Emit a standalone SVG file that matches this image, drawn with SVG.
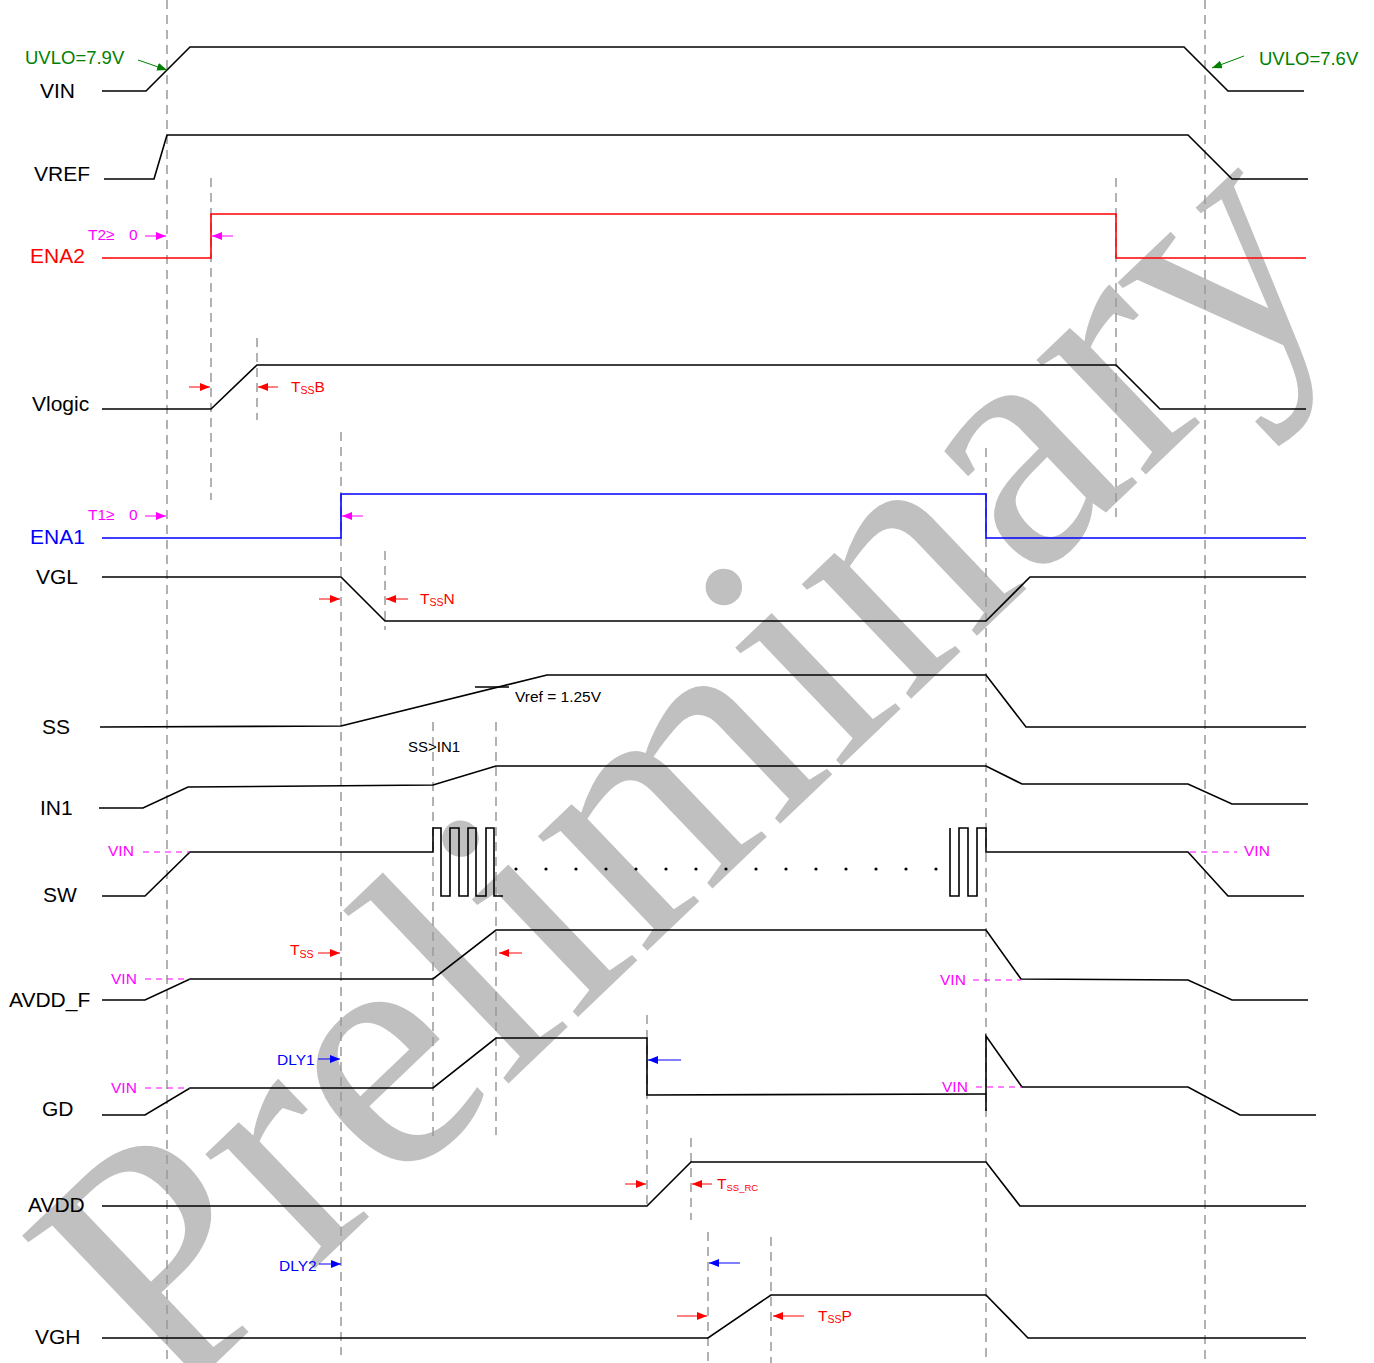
<svg xmlns="http://www.w3.org/2000/svg" width="1374" height="1363" viewBox="0 0 1374 1363">
<style>
.sig{fill:none;stroke:#000;stroke-width:1.6;stroke-linejoin:miter}
.lbl{font-family:"Liberation Sans",Arial,sans-serif;font-size:21px;fill:#000}
.sm{font-family:"Liberation Sans",Arial,sans-serif;font-size:15.5px}
.guide{fill:none;stroke:#999;stroke-width:1.5;stroke-dasharray:9,6}
.vdash{fill:none;stroke:#ff00ff;stroke-width:1;stroke-dasharray:6,5}
.ar{fill:none;stroke-width:1}
.wm{font-family:"Liberation Serif","Times New Roman",serif;font-size:345px;fill:#c0c0c0}
</style>
<defs>
<marker id="mr" viewBox="0 0 10 8" refX="10" refY="4" markerWidth="10" markerHeight="8" markerUnits="userSpaceOnUse" orient="auto"><path d="M0,0L10,4L0,8z" fill="#ff0000"/></marker>
<marker id="mm" viewBox="0 0 10 8" refX="10" refY="4" markerWidth="10" markerHeight="8" markerUnits="userSpaceOnUse" orient="auto"><path d="M0,0L10,4L0,8z" fill="#ff00ff"/></marker>
<marker id="mb" viewBox="0 0 10 8" refX="10" refY="4" markerWidth="10" markerHeight="8" markerUnits="userSpaceOnUse" orient="auto"><path d="M0,0L10,4L0,8z" fill="#0000ff"/></marker>
<marker id="mg" viewBox="0 0 10 8" refX="10" refY="4" markerWidth="10" markerHeight="8" markerUnits="userSpaceOnUse" orient="auto"><path d="M0,0L10,4L0,8z" fill="#008000"/></marker>
</defs>
<rect width="1374" height="1363" fill="#fff"/>
<text class="wm" transform="translate(171,1406) rotate(-43.7)">Preliminary</text>

<g id="guides">
<path class="guide" d="M167,0V1363M1205,0V1363M211,178V500M257,338V420M341,432V1355M385,551V630M433,722V1140M496,722V1135M647,1015V1210M691,1138V1220M708,1232V1363M771,1237V1363M986,448V1363M1116,178V520"/>
</g>

<g id="VIN">
<text class="lbl" x="40" y="98">VIN</text>
<path class="sig" d="M102,91H146L190,47H1184L1228,91H1304"/>
</g>
<g id="VREF">
<text class="lbl" x="34" y="181">VREF</text>
<path class="sig" d="M104,179H154L167,135H1188L1232,179H1308"/>
</g>
<g id="ENA2">
<text class="lbl" x="30" y="263" style="fill:#ff0000">ENA2</text>
<path class="sig" style="stroke:#ff0000" d="M102,258H211V214H1116V258H1306"/>
</g>
<g id="Vlogic">
<text class="lbl" x="32" y="411">Vlogic</text>
<path class="sig" d="M102,409H211L257,365H1116L1160,409H1306"/>
</g>
<g id="ENA1">
<text class="lbl" x="30" y="544" style="fill:#0000ff">ENA1</text>
<path class="sig" style="stroke:#0000ff" d="M102,538H341V494H986V538H1306"/>
</g>
<g id="VGL">
<text class="lbl" x="36" y="584">VGL</text>
<path class="sig" d="M102,577H341L385,621H986L1030,577H1306"/>
</g>
<g id="SS">
<text class="lbl" x="42" y="734">SS</text>
<path class="sig" d="M100,727L341,726L547,675H986L1026,727H1306"/>
<path class="sig" d="M475,687H509"/>
</g>
<g id="IN1">
<text class="lbl" x="40" y="815">IN1</text>
<path class="sig" d="M99,808H143L188,787L433,785L496,766H986L1022,784H1188L1232,804H1308"/>
</g>
<g id="SW">
<text class="lbl" x="43" y="902">SW</text>
<path class="sig" d="M102,896H145L190,852H433V828H441V896H450V828H459V896H468V828H476V896H486V828H494V896H503"/>
<path class="sig" d="M950,828V896H959V828H968V896H977V828H986V852H1188L1228,896H1304"/>
<g fill="#000">
<circle cx="516" cy="869" r="1.6"/><circle cx="546" cy="869" r="1.6"/><circle cx="576" cy="869" r="1.6"/><circle cx="606" cy="869" r="1.6"/><circle cx="636" cy="869" r="1.6"/><circle cx="666" cy="869" r="1.6"/><circle cx="696" cy="869" r="1.6"/><circle cx="726" cy="869" r="1.6"/><circle cx="756" cy="869" r="1.6"/><circle cx="786" cy="869" r="1.6"/><circle cx="816" cy="869" r="1.6"/><circle cx="846" cy="869" r="1.6"/><circle cx="876" cy="869" r="1.6"/><circle cx="906" cy="869" r="1.6"/><circle cx="936" cy="869" r="1.6"/>
</g>
</g>
<g id="AVDD_F">
<text class="lbl" x="9" y="1007">AVDD_F</text>
<path class="sig" d="M102,1000H145L190,979H433L496,930H986L1021,979L1188,980L1232,1000H1308"/>
</g>
<g id="GD">
<text class="lbl" x="42" y="1116">GD</text>
<path class="sig" d="M102,1115H145L190,1088H433L496,1038H647V1095L986,1094"/>
<path class="sig" d="M986,1111V1036L1022,1087H1188L1240,1115H1316"/>
</g>
<g id="AVDD">
<text class="lbl" x="28" y="1212">AVDD</text>
<path class="sig" d="M102,1206H647L691,1162H986L1020,1206H1306"/>
</g>
<g id="VGH">
<text class="lbl" x="35" y="1344">VGH</text>
<path class="sig" d="M102,1338H708L771,1295H986L1028,1338H1306"/>
</g>

<g id="annotations">
<text class="sm" x="25" y="64" style="font-size:18.5px;fill:#008000">UVLO=7.9V</text>
<path class="ar" stroke="#008000" marker-end="url(#mg)" d="M138,60L167,70"/>
<text class="sm" x="1259" y="65" style="font-size:18.5px;fill:#008000">UVLO=7.6V</text>
<path class="ar" stroke="#008000" marker-end="url(#mg)" d="M1244,56L1212,68"/>

<text class="sm" x="88" y="240" fill="#ff00ff">T2≥<tspan x="129">0</tspan></text>
<path class="ar" stroke="#ff00ff" marker-end="url(#mm)" d="M145,236H166"/>
<path class="ar" stroke="#ff00ff" marker-end="url(#mm)" d="M233,236H212"/>

<path class="ar" stroke="#ff0000" marker-end="url(#mr)" d="M189,387H210"/>
<path class="ar" stroke="#ff0000" marker-end="url(#mr)" d="M278,387H258"/>
<text class="sm" x="291" y="392" fill="#ff0000">T<tspan font-size="10.5" dy="2">SS</tspan><tspan dy="-2">B</tspan></text>

<text class="sm" x="88" y="520" fill="#ff00ff">T1≥<tspan x="129">0</tspan></text>
<path class="ar" stroke="#ff00ff" marker-end="url(#mm)" d="M145,516H166"/>
<path class="ar" stroke="#ff00ff" marker-end="url(#mm)" d="M363,516H342"/>

<path class="ar" stroke="#ff0000" marker-end="url(#mr)" d="M319,599H340"/>
<path class="ar" stroke="#ff0000" marker-end="url(#mr)" d="M408,599H386"/>
<text class="sm" x="420" y="604" fill="#ff0000">T<tspan font-size="10.5" dy="2">SS</tspan><tspan dy="-2">N</tspan></text>

<text class="sm" x="515" y="702" fill="#000">Vref = 1.25V</text>
<text class="sm" x="408" y="752" fill="#000" style="font-size:15px">SS&gt;IN1</text>

<text class="sm" x="108" y="856" fill="#ff00ff">VIN</text>
<path class="vdash" d="M143,852H190"/>
<text class="sm" x="1244" y="856" fill="#ff00ff">VIN</text>
<path class="vdash" d="M1190,852H1237"/>

<text class="sm" x="111" y="984" fill="#ff00ff">VIN</text>
<path class="vdash" d="M145,979H190"/>
<text class="sm" x="940" y="985" fill="#ff00ff">VIN</text>
<path class="vdash" d="M973,980H1021"/>
<text class="sm" x="290" y="955" fill="#ff0000">T<tspan font-size="10.5" dy="3">SS</tspan></text>
<path class="ar" stroke="#ff0000" marker-end="url(#mr)" d="M318,953H340"/>
<path class="ar" stroke="#ff0000" marker-end="url(#mr)" d="M522,953H499"/>

<text class="sm" x="111" y="1093" fill="#ff00ff">VIN</text>
<path class="vdash" d="M145,1088H190"/>
<text class="sm" x="942" y="1092" fill="#ff00ff">VIN</text>
<path class="vdash" d="M976,1087H1022"/>
<text class="sm" x="277" y="1065" fill="#0000ff">DLY1</text>
<path class="ar" stroke="#0000ff" marker-end="url(#mb)" d="M318,1059H340"/>
<path class="ar" stroke="#0000ff" marker-end="url(#mb)" d="M681,1060H648"/>

<path class="ar" stroke="#ff0000" marker-end="url(#mr)" d="M625,1184H646"/>
<path class="ar" stroke="#ff0000" marker-end="url(#mr)" d="M712,1184H692"/>
<text class="sm" x="717" y="1189" fill="#ff0000">T<tspan font-size="9.5" dy="2">SS_RC</tspan></text>

<text class="sm" x="279" y="1271" fill="#0000ff">DLY2</text>
<path class="ar" stroke="#0000ff" marker-end="url(#mb)" d="M319,1264H341"/>
<path class="ar" stroke="#0000ff" marker-end="url(#mb)" d="M740,1263H709"/>

<path class="ar" stroke="#ff0000" marker-end="url(#mr)" d="M677,1316H707"/>
<path class="ar" stroke="#ff0000" marker-end="url(#mr)" d="M804,1316H773"/>
<text class="sm" x="818" y="1321" fill="#ff0000">T<tspan font-size="10.5" dy="2">SS</tspan><tspan dy="-2">P</tspan></text>
</g>
</svg>
